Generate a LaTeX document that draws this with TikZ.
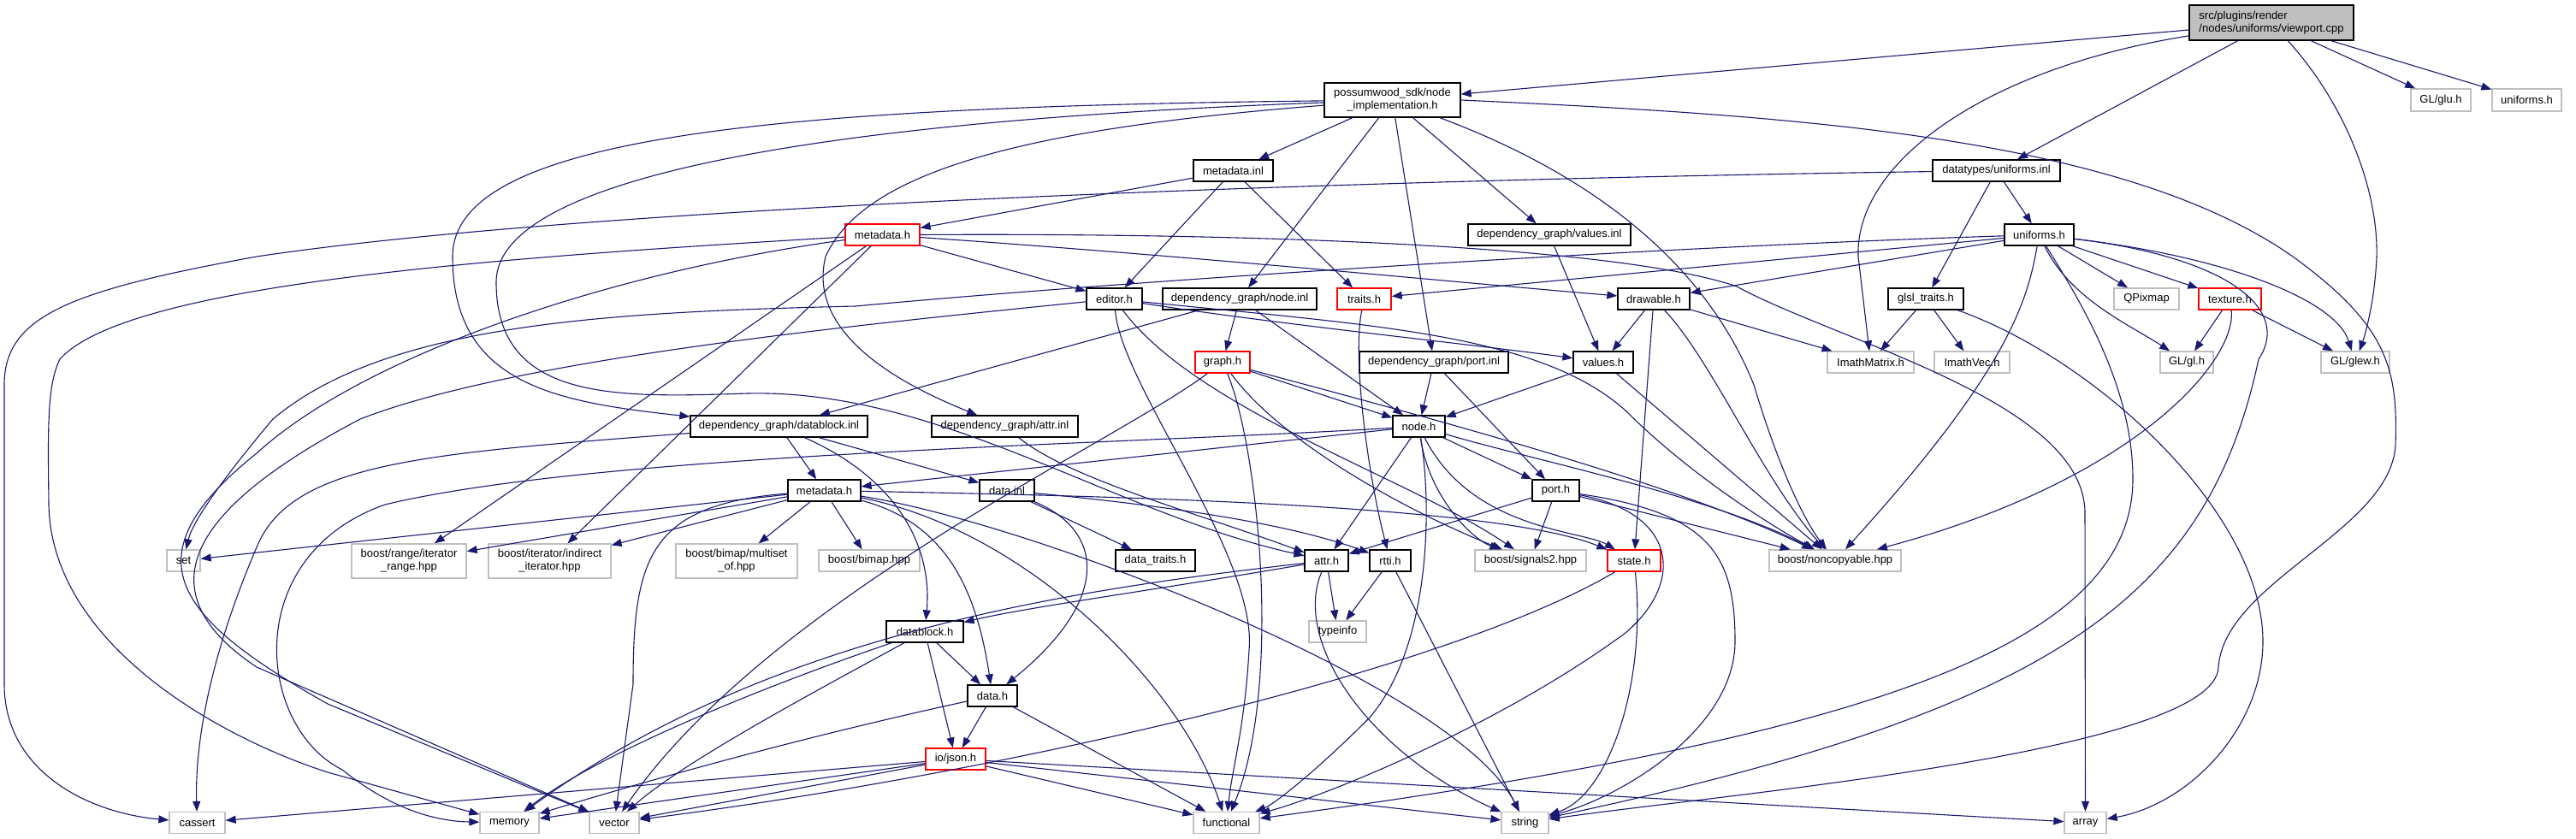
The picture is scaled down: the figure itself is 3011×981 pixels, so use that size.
\documentclass[tikz,border=0pt]{standalone}
\usepackage{fontspec}
\setmainfont{Liberation Sans}
\usetikzlibrary{arrows.meta}
\definecolor{edgec}{HTML}{191970}
\definecolor{grayb}{HTML}{BFBFBF}
\begin{document}
\begin{tikzpicture}[x=1pt,y=-1pt,
  box/.style={rectangle,inner sep=0pt,line width=1.3pt,fill=white,font=\fontsize{13}{15}\selectfont,align=center,minimum height=25pt},
  nb/.style={box,draw=black},
  ng/.style={box,draw=grayb},
  nr/.style={box,draw=red},
  rootn/.style={box,draw=black,fill=grayb,align=left},
  e/.style={draw=edgec,line width=1.1pt,-{Triangle[length=12pt,width=9pt]}}]
\useasboundingbox (0,0) rectangle (3011,981);
% nodes
\node[rootn,minimum width=192pt,minimum height=41pt] (vp) at (2655,26.5) {src/plugins/render\\/nodes/uniforms/viewport.cpp};
\node[nb,minimum width=159pt,minimum height=40pt] (nimpl) at (1627.5,117) {possumwood\_sdk/node\\\_implementation.h};
\node[ng,minimum width=70pt,minimum height=26pt] (glu) at (2853,117) {GL/glu.h};
\node[ng,minimum width=81pt,minimum height=26pt] (uniext) at (2953.5,117) {uniforms.h};
\node[nb,minimum width=93pt] (minl) at (1441.5,199.5) {metadata.inl};
\node[nb,minimum width=149pt] (uinl) at (2333.5,199.5) {datatypes/uniforms.inl};
\node[nr,minimum width=87pt] (mdr) at (1031.5,274.5) {metadata.h};
\node[nb,minimum width=190pt] (vinl) at (1811,274.5) {dependency\_graph/values.inl};
\node[nb,minimum width=81pt] (unif) at (2383.5,274.5) {uniforms.h};
\node[nb,minimum width=65pt] (editor) at (1302.5,349.5) {editor.h};
\node[nb,minimum width=180pt] (ninl) at (1449,349.5) {dependency\_graph/node.inl};
\node[nr,minimum width=63pt] (traits) at (1594.5,349.5) {traits.h};
\node[nb,minimum width=84pt] (drawable) at (1933,349.5) {drawable.h};
\node[nb,minimum width=88pt] (glsl) at (2251,349.5) {glsl\_traits.h};
\node[ng,minimum width=76pt] (qpix) at (2509,349.5) {QPixmap};
\node[nr,minimum width=73pt] (texture) at (2606.5,349.5) {texture.h};
\node[nr,minimum width=64pt] (graph) at (1429,423.5) {graph.h};
\node[nb,minimum width=174pt] (pinl) at (1676,423.5) {dependency\_graph/port.inl};
\node[nb,minimum width=70pt] (valh) at (1874,423.5) {values.h};
\node[ng,minimum width=101pt] (imat) at (2186.5,423.5) {ImathMatrix.h};
\node[ng,minimum width=88pt] (ivec) at (2305,423.5) {ImathVec.h};
\node[ng,minimum width=62pt] (glgl) at (2556,423.5) {GL/gl.h};
\node[ng,minimum width=80pt] (glew) at (2753,423.5) {GL/glew.h};
\node[nb,minimum width=207pt] (dbinl) at (910.5,498.5) {dependency\_graph/datablock.inl};
\node[nb,minimum width=171pt] (ainl) at (1174.5,498.5) {dependency\_graph/attr.inl};
\node[nb,minimum width=61pt] (nodeh) at (1658.5,498.5) {node.h};
\node[nb,minimum width=85pt] (mdb) at (963.5,573.5) {metadata.h};
\node[nb,minimum width=64pt] (datainl) at (1177,573.5) {data.inl};
\node[nb,minimum width=55pt] (porth) at (1818.5,573.5) {port.h};
\node[ng,minimum width=39pt] (set) at (214.5,655.5) {set};
\node[ng,minimum width=134pt,minimum height=40pt] (range) at (478,656) {boost/range/iterator\\\_range.hpp};
\node[ng,minimum width=143pt,minimum height=40pt] (indir) at (642.5,656) {boost/iterator/indirect\\\_iterator.hpp};
\node[ng,minimum width=142pt,minimum height=40pt] (multiset) at (861,656) {boost/bimap/multiset\\\_of.hpp};
\node[ng,minimum width=118pt] (bimap) at (1016,655.5) {boost/bimap.hpp};
\node[nb,minimum width=93pt] (dtraits) at (1350.5,655.5) {data\_traits.h};
\node[nb,minimum width=51pt] (attrh) at (1550.5,655.5) {attr.h};
\node[nb,minimum width=48pt] (rtti) at (1625,655.5) {rtti.h};
\node[ng,minimum width=130pt] (sig) at (1789,655.5) {boost/signals2.hpp};
\node[nr,minimum width=62pt] (state) at (1910,655.5) {state.h};
\node[ng,minimum width=154pt] (noncopy) at (2145,655.5) {boost/noncopyable.hpp};
\node[nb,minimum width=90pt] (dblockh) at (1081,738.5) {datablock.h};
\node[ng,minimum width=67pt] (typeinfo) at (1563.5,738.5) {typeinfo};
\node[nb,minimum width=58pt] (datah) at (1160,813.5) {data.h};
\node[nr,minimum width=70pt] (json) at (1117,887.5) {io/json.h};
\node[ng,minimum width=65pt] (cassert) at (230.5,962) {cassert};
\node[ng,minimum width=69pt] (memory) at (595.5,962) {memory};
\node[ng,minimum width=58pt] (vector) at (718,962) {vector};
\node[ng,minimum width=77pt] (functional) at (1433.5,962) {functional};
\node[ng,minimum width=55pt] (string) at (1782.5,962) {string};
\node[ng,minimum width=49pt] (array) at (2437.5,962) {array};
% edges: viewport.cpp
\draw[e] (vp) -- (nimpl);
\draw[e] (vp) .. controls (2320,80) and (2168,190) .. (2172,300) -- (imat);
\draw[e] (vp) -- (uinl);
\draw[e] (vp) .. controls (2740,120) and (2780,220) .. (2778,300) .. controls (2776,350) and (2765,390) .. (glew);
\draw[e] (vp) -- (glu);
\draw[e] (vp) -- (uniext);
% node_implementation.h
\draw[e] (nimpl) -- (minl);
\draw[e] (nimpl) -- (ninl);
\draw[e] (nimpl) -- (pinl);
\draw[e] (nimpl) -- (vinl);
\draw[e] (nimpl) .. controls (900,125) and (529,160) .. (529,300) .. controls (529,450) and (650,470) .. (dbinl);
\draw[e] (nimpl) .. controls (1000,140) and (580,200) .. (580,330) .. controls (580,470) and (720,465) .. (874,460) .. controls (1100,455) and (1300,600) .. (attrh);
\draw[e] (nimpl) .. controls (1200,150) and (1010,200) .. (965,300) .. controls (940,400) and (1080,460) .. (ainl);
\draw[e] (nimpl) .. controls (1850,200) and (1990,300) .. (2050,450) .. controls (2080,550) and (2110,610) .. (noncopy);
\draw[e] (nimpl.east) .. controls (2100,135) and (2480,160) .. (2680,300) .. controls (2790,380) and (2803,430) .. (2800,520) .. controls (2795,620) and (2600,680) .. (2593,780) .. controls (2590,880) and (2000,930) .. (string);
% metadata.inl
\draw[e] (minl) -- (mdr);
\draw[e] (minl) -- (editor);
\draw[e] (minl) -- (traits);
% datatypes/uniforms.inl
\draw[e] (uinl) -- (unif);
\draw[e] (uinl) -- (glsl);
\draw[e] (uinl) .. controls (1600,210) and (700,240) .. (300,300) .. controls (80,340) and (5,370) .. (5,450) -- (5,800) .. controls (5,900) and (100,950) .. (cassert);
% metadata.h (red)
\draw[e] (mdr) -- (editor);
\draw[e] (mdr) .. controls (1400,300) and (1700,330) .. (drawable);
\draw[e] (mdr.east) .. controls (1500,272) and (1900,290) .. (2030,335) .. controls (2150,400) and (2437,470) .. (2437,600) -- (array);
\draw[e] (mdr) -- (range);
\draw[e] (mdr) -- (indir);
\draw[e] (mdr) .. controls (600,300) and (150,330) .. (70,420) .. controls (55,450) and (56,500) .. (57,590) .. controls (60,750) and (250,860) .. (383,903) -- (memory);
\draw[e] (mdr) .. controls (700,320) and (420,420) .. (300,530) .. controls (150,650) and (200,720) .. (383,823) -- (vector);
% values.inl
\draw[e] (vinl) -- (valh);
% uniforms.h
\draw[e] (unif) -- (traits);
\draw[e] (unif) -- (drawable);
\draw[e] (unif) .. controls (1900,290) and (1300,330) .. (1000,358) .. controls (700,365) and (450,380) .. (319,490) .. controls (260,560) and (225,610) .. (set);
\draw[e] (unif) -- (qpix);
\draw[e] (unif) -- (texture);
\draw[e] (unif) .. controls (2420,350) and (2490,380) .. (glgl);
\draw[e] (unif) .. controls (2600,300) and (2730,350) .. (glew);
\draw[e] (unif) .. controls (2370,350) and (2350,430) .. (noncopy);
\draw[e] (unif) .. controls (2430,350) and (2493,450) .. (2493,560) .. controls (2493,750) and (2200,860) .. (functional);
\draw[e] (unif) .. controls (2600,300) and (2680,360) .. (2640,420) .. controls (2580,700) and (2400,830) .. (string);
% editor.h
\draw[e] (editor) .. controls (1500,380) and (1700,400) .. (valh);
\draw[e] (editor) .. controls (1000,380) and (600,420) .. (421,490) .. controls (250,580) and (150,680) .. (300,780) -- (vector);
\draw[e] (editor) .. controls (1310,450) and (1470,650) .. (1460,760) .. controls (1455,850) and (1440,900) .. (functional);
\draw[e] (editor) .. controls (1400,480) and (1650,560) .. (sig);
\draw[e] (editor) .. controls (1600,380) and (1800,390) .. (1900,480) .. controls (1980,560) and (2080,620) .. (noncopy);
% node.inl
\draw[e] (ninl) -- (graph);
\draw[e] (ninl) -- (dbinl);
\draw[e] (ninl) -- (nodeh);
% traits.h
\draw[e] (traits) .. controls (1580,420) and (1600,560) .. (rtti);
% drawable.h
\draw[e] (drawable) -- (valh);
\draw[e] (drawable) -- (state);
\draw[e] (drawable) -- (imat);
\draw[e] (drawable) .. controls (2000,420) and (2060,560) .. (noncopy);
% glsl_traits.h
\draw[e] (glsl) -- (imat);
\draw[e] (glsl) -- (ivec);
\draw[e] (glsl) .. controls (2450,420) and (2645,600) .. (2645,750) .. controls (2645,850) and (2560,940) .. (array);
% texture.h
\draw[e] (texture) -- (glgl);
\draw[e] (texture) -- (glew);
\draw[e] (texture) .. controls (2615,420) and (2500,560) .. (noncopy);
% graph.h
\draw[e] (graph) -- (nodeh);
\draw[e] (graph) .. controls (1500,520) and (1650,600) .. (sig);
\draw[e] (graph) .. controls (1600,470) and (1950,560) .. (noncopy);
\draw[e] (graph) .. controls (1300,520) and (900,700) .. (vector);
\draw[e] (graph) .. controls (1470,520) and (1500,800) .. (functional);
% port.inl
\draw[e] (pinl) -- (nodeh);
\draw[e] (pinl) -- (porth);
% values.h
\draw[e] (valh) -- (nodeh);
\draw[e] (valh) -- (noncopy);
% datablock.inl
\draw[e] (dbinl) -- (mdb);
\draw[e] (dbinl) .. controls (1050,560) and (1090,640) .. (dblockh);
\draw[e] (dbinl) -- (datainl);
\draw[e] (dbinl) .. controls (500,530) and (340,540) .. (300,640) .. controls (240,780) and (228,880) .. (cassert);
% attr.inl
\draw[e] (ainl) .. controls (1250,560) and (1400,600) .. (attrh);
% node.h
\draw[e] (nodeh) -- (mdb);
\draw[e] (nodeh) .. controls (1300,520) and (700,530) .. (450,590) .. controls (280,650) and (300,850) .. (400,900) .. controls (450,940) and (500,960) .. (memory);
\draw[e] (nodeh) -- (attrh);
\draw[e] (nodeh) -- (porth);
\draw[e] (nodeh) .. controls (1670,580) and (1720,630) .. (sig);
\draw[e] (nodeh) .. controls (1720,620) and (1850,620) .. (state);
\draw[e] (nodeh) .. controls (1800,540) and (2000,580) .. (noncopy);
\draw[e] (nodeh) .. controls (1675,600) and (1670,760) .. (1600,840) .. controls (1540,900) and (1490,940) .. (functional);
% metadata.h (black)
\draw[e] (mdb) -- (set);
\draw[e] (mdb) -- (range);
\draw[e] (mdb) -- (indir);
\draw[e] (mdb) -- (multiset);
\draw[e] (mdb) -- (bimap);
\draw[e] (mdb) .. controls (760,590) and (740,650) .. (740,800) -- (vector);
\draw[e] (mdb) .. controls (1100,610) and (1140,680) .. (datah);
\draw[e] (mdb) .. controls (1300,580) and (1750,590) .. (state);
\draw[e] (mdb) .. controls (1200,620) and (1380,800) .. (functional);
\draw[e] (mdb) .. controls (1200,610) and (1700,800) .. (string);
% data.inl
\draw[e] (datainl) .. controls (1290,620) and (1300,700) .. (datah);
\draw[e] (datainl) -- (dtraits);
\draw[e] (datainl) .. controls (1350,590) and (1500,610) .. (rtti);
% port.h
\draw[e] (porth) -- (attrh);
\draw[e] (porth) -- (sig);
\draw[e] (porth) -- (noncopy);
\draw[e] (porth) .. controls (1960,600) and (1970,680) .. (1900,740) .. controls (1750,850) and (1550,930) .. (functional);
\draw[e] (porth) .. controls (2000,600) and (2028,650) .. (2028,750) .. controls (2028,850) and (1900,930) .. (string);
% attr.h
\draw[e] (attrh) -- (typeinfo);
\draw[e] (attrh) .. controls (1350,690) and (1200,710) .. (dblockh);
\draw[e] (attrh) .. controls (1250,690) and (900,740) .. (memory);
\draw[e] (attrh) .. controls (1510,750) and (1600,880) .. (string);
% rtti.h
\draw[e] (rtti) -- (typeinfo);
\draw[e] (rtti) -- (string);
% state.h
\draw[e] (state) .. controls (1700,780) and (1200,900) .. (vector);
\draw[e] (state) .. controls (1925,800) and (1880,930) .. (string);
% datablock.h
\draw[e] (dblockh) -- (datah);
\draw[e] (dblockh) -- (json);
\draw[e] (dblockh) .. controls (900,800) and (700,880) .. (memory);
\draw[e] (dblockh) .. controls (950,810) and (800,890) .. (vector);
% data.h
\draw[e] (datah) -- (json);
\draw[e] (datah) .. controls (900,870) and (700,930) .. (memory);
\draw[e] (datah) -- (functional);
% io/json.h
\draw[e] (json) -- (cassert);
\draw[e] (json) -- (memory);
\draw[e] (json) -- (vector);
\draw[e] (json) -- (functional);
\draw[e] (json) -- (string);
\draw[e] (json) -- (array);
\end{tikzpicture}
\end{document}
